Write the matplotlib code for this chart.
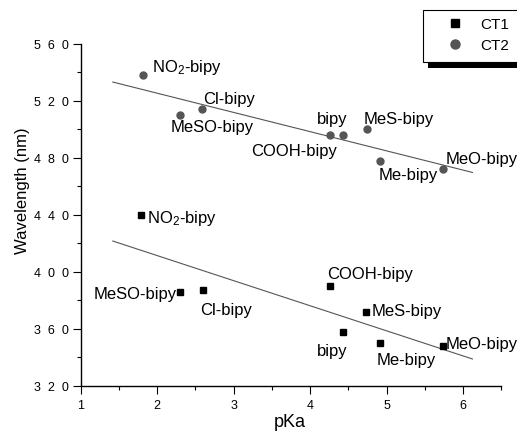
import matplotlib
matplotlib.use("Agg")
import matplotlib.pyplot as plt
import numpy as np
from matplotlib.ticker import MultipleLocator, FuncFormatter
from matplotlib.patches import Rectangle

plt.rcParams['font.family'] = ['Liberation Sans', 'DejaVu Sans']
plt.rcParams['mathtext.fontset'] = 'custom'
plt.rcParams['mathtext.rm'] = 'Liberation Sans'
plt.rcParams['mathtext.it'] = 'Liberation Sans:italic'

# CT1 band (squares)
labels_ct1 = ["NO$_2$-bipy", "MeSO-bipy", "Cl-bipy", "COOH-bipy",
              "bipy", "MeS-bipy", "Me-bipy", "MeO-bipy"]
pka_ct1 = [1.79, 2.30, 2.60, 4.26, 4.43, 4.73, 4.91, 5.73]
wl_ct1 = [440, 386, 387, 390, 358, 372, 350, 348]

# CT2 band (circles)
labels_ct2 = ["NO$_2$-bipy", "MeSO-bipy", "Cl-bipy", "COOH-bipy",
              "bipy", "MeS-bipy", "Me-bipy", "MeO-bipy"]
pka_ct2 = [1.81, 2.30, 2.59, 4.26, 4.43, 4.74, 4.91, 5.73]
wl_ct2 = [538, 510, 514, 496, 496, 500, 478, 472]

# label placement: offset from the point in pixels (dx right, dy down), alignment
offs_ct1 = [(5.7, 6.7, 'left'), (-3.3, 6.0, 'right'), (-2.6, 24.0, 'left'),
            (-3.3, -8.4, 'left'), (-26.6, 23.3, 'left'), (5.7, 3.3, 'left'),
            (-3.3, 20.7, 'left'), (3.0, 2.3, 'left')]
offs_ct2 = [(9.7, -4.3, 'left'), (-9.3, 16.0, 'left'), (0.6, -6.7, 'left'),
            (6.7, 20.3, 'right'), (-26.0, -12.4, 'left'), (-2.7, -6.7, 'left'),
            (-1.0, 18.3, 'left'), (3.0, -6.0, 'left')]

fit_range = np.array([1.42, 6.12])

fig = plt.figure(figsize=(5.17, 4.39), dpi=100)
ax = fig.add_axes([0.156, 0.1192, 0.814, 0.7783])

# regression lines
for x, y in [(pka_ct1, wl_ct1), (pka_ct2, wl_ct2)]:
    k, b = np.polyfit(x, y, 1)
    ax.plot(fit_range, k * fit_range + b, color='#555555', lw=0.8, zorder=1)

ax.plot(pka_ct1, wl_ct1, ls='none', marker='s', ms=4.6, color='black', label='CT1', zorder=3)
ax.plot(pka_ct2, wl_ct2, ls='none', marker='o', ms=5.0, color='#555555', label='CT2', zorder=3)

for labs, xs, ys, offs in [(labels_ct1, pka_ct1, wl_ct1, offs_ct1),
                           (labels_ct2, pka_ct2, wl_ct2, offs_ct2)]:
    for lab, x, y, (dx, dy, ha) in zip(labs, xs, ys, offs):
        ax.annotate(lab, (x, y), xytext=(dx * 0.72, -dy * 0.72),
                    textcoords='offset points', ha=ha, va='baseline',
                    fontsize=12, annotation_clip=False)

ax.set_xlim(1, 6.5)
ax.set_ylim(320, 560)
ax.xaxis.set_major_locator(MultipleLocator(1))
ax.xaxis.set_minor_locator(MultipleLocator(0.5))
ax.yaxis.set_major_locator(MultipleLocator(40))
ax.yaxis.set_minor_locator(MultipleLocator(20))
ax.yaxis.set_major_formatter(FuncFormatter(lambda v, p: '  '.join(str(int(v)))))
ax.xaxis.set_major_formatter(FuncFormatter(lambda v, p: str(int(v))))

ax.spines['top'].set_visible(False)
ax.spines['right'].set_visible(False)
for s in ['left', 'bottom']:
    ax.spines[s].set_linewidth(1.0)
ax.tick_params(which='major', direction='out', length=5.8, width=0.8, labelsize=9, pad=2.5)
ax.tick_params(which='minor', direction='out', length=3, width=0.8)
ax.tick_params(axis='x', which='major', pad=4)

ax.set_xlabel('pKa', fontsize=13)
ax.set_ylabel('Wavelength (nm)', fontsize=12)
ax.xaxis.set_label_coords(0.497, -0.08)
ax.yaxis.set_label_coords(-0.12, 0.573)

# legend box with a hard black shadow, running off the right edge
W, H = 517.0, 439.0
fig.add_artist(Rectangle((428 / W, 1 - 69 / H), 0.3, 6 / H, transform=fig.transFigure,
                         facecolor='black', edgecolor='none', zorder=4))
fig.add_artist(Rectangle((423.3 / W, 1 - 63 / H), 0.3, 52 / H, transform=fig.transFigure,
                         facecolor='white', edgecolor='black', lw=0.8, zorder=5))
leg = fig.legend(loc='upper left', bbox_to_anchor=(447.4 / W, 1 - 18 / H), frameon=False,
                 fontsize=11, numpoints=1, markerscale=1.3, handlelength=1.0,
                 handletextpad=1.14, borderpad=0, borderaxespad=0, labelspacing=0.45)
leg.set_zorder(6)

fig.savefig('out.png', dpi=100)
